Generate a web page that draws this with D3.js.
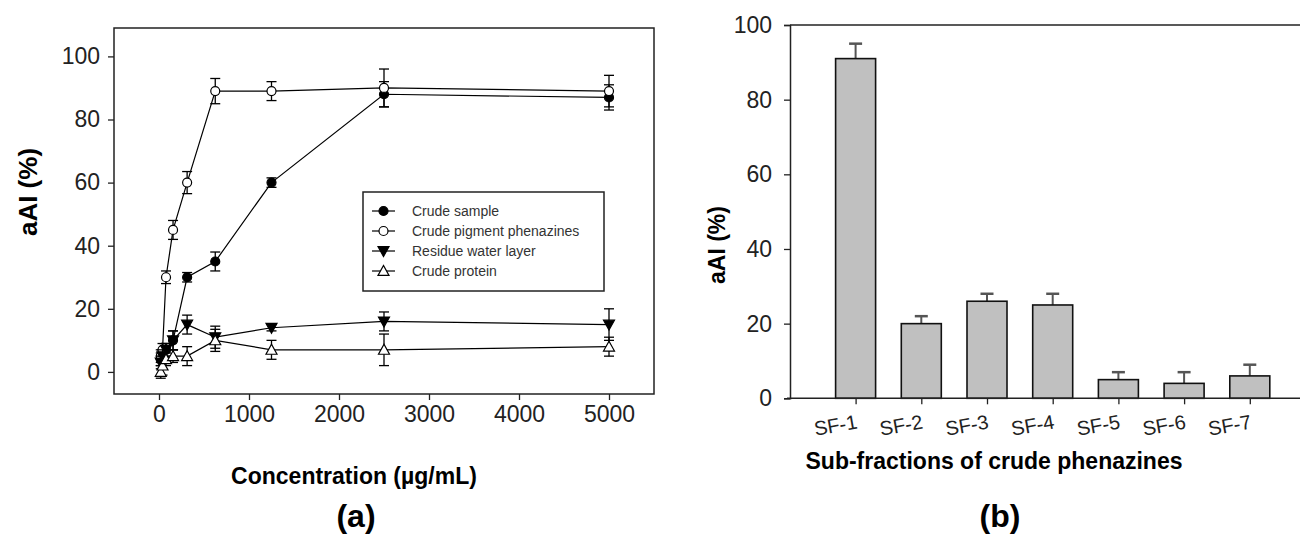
<!DOCTYPE html>
<html>
<head>
<meta charset="utf-8">
<script src="https://cdn.jsdelivr.net/npm/d3@7/dist/d3.min.js"></script>
<style>
  body { margin: 0; background: #fff; }
  svg { font-family: "Liberation Sans", Arial, sans-serif; }
</style>
</head>
<body>
<svg id="chart" width="1306" height="534"></svg>
<script>
// ---- data (a) ----
var concentrations = [19.5, 39, 78, 156, 312.5, 625, 1250, 2500, 5000];
var crudeSample = [4, 5, 7, 10, 30, 35, 60, 88, 87];
var crudeSampleErr = [2, 2, 2, 3, 1.5, 3, 1.5, 4, 4];
var pigment = [5, 7, 30, 45, 60, 89, 89, 90, 89];
var pigmentErr = [2, 2, 2, 3, 3.5, 4, 3, 6, 5];
var residue = [3, 5, 7, 10, 15, 11, 14, 16, 15];
var residueErr = [2, 2, 2, 3, 3, 3.5, 1, 3, 5];
var protein = [0, 2, 4, 5, 5, 10, 7, 7, 8];
var proteinErr = [2, 3, 2, 2, 3, 3.5, 3, 5, 3];
var seriesNames = ["Crude sample", "Crude pigment phenazines", "Residue water layer", "Crude protein"];
var xTicksA = [0, 1000, 2000, 3000, 4000, 5000];
var yTicks = [0, 20, 40, 60, 80, 100];

// ---- data (b) ----
var fractions = ["SF-1", "SF-2", "SF-3", "SF-4", "SF-5", "SF-6", "SF-7"];
var fractionValues = [91, 20, 26, 25, 5, 4, 6];
var fractionErr = [4, 2, 2, 3, 2, 3, 3];

var svg = d3.select("#chart");

// ================= panel (a) =================
var x = d3.scaleLinear().domain([-500, 5500]).range([114, 654]);
var y = d3.scaleLinear().domain([-7, 109]).range([394, 28]);

var gA = svg.append("g");

gA.append("rect")
  .attr("x", x.range()[0]).attr("y", y.range()[1])
  .attr("width", x.range()[1] - x.range()[0])
  .attr("height", y.range()[0] - y.range()[1])
  .attr("fill", "none").attr("stroke", "#222").attr("stroke-width", 1.5);

var axA = gA.append("g").attr("transform", "translate(0,394)")
  .call(d3.axisBottom(x).tickValues(xTicksA).tickFormat(d3.format("d")).tickSize(6).tickPadding(6));
var ayA = gA.append("g").attr("transform", "translate(114,0)")
  .call(d3.axisLeft(y).tickValues(yTicks).tickSize(6).tickPadding(8));
[axA, ayA].forEach(function(a) {
  a.select(".domain").remove();
  a.selectAll("line").attr("stroke", "#222").attr("stroke-width", 1.3);
  a.selectAll("text").attr("font-size", 23).attr("fill", "#222").attr("font-family", null);
});

var series = [
  { vals: crudeSample, err: crudeSampleErr, shape: "circle", fill: "#000" },
  { vals: pigment, err: pigmentErr, shape: "circle", fill: "#fff" },
  { vals: residue, err: residueErr, shape: "down", fill: "#000" },
  { vals: protein, err: proteinErr, shape: "up", fill: "#fff" }
];

var line = d3.line()
  .x(function(d) { return x(d.c); })
  .y(function(d) { return y(d.v); });

function drawMarker(g, shape, fill, cx, cy) {
  if (shape == "circle") {
    g.append("circle").attr("cx", cx).attr("cy", cy).attr("r", 4.5)
      .attr("fill", fill).attr("stroke", "#000").attr("stroke-width", 1.2);
  } else {
    var s = 5.5;
    var pts = shape == "down"
      ? [[cx - s, cy - s * 0.8], [cx + s, cy - s * 0.8], [cx, cy + s]]
      : [[cx - s, cy + s * 0.8], [cx + s, cy + s * 0.8], [cx, cy - s]];
    g.append("polygon").attr("points", pts.map(function(p) { return p.join(","); }).join(" "))
      .attr("fill", fill).attr("stroke", "#000").attr("stroke-width", 1.2);
  }
}

series.forEach(function(s) {
  var pts = concentrations.map(function(c, i) { return { c: c, v: s.vals[i], e: s.err[i] }; });
  var g = gA.append("g");
  g.append("path").datum(pts).attr("d", line)
    .attr("fill", "none").attr("stroke", "#000").attr("stroke-width", 1.2);
  pts.forEach(function(p) {
    var px = x(p.c);
    g.append("line").attr("x1", px).attr("x2", px)
      .attr("y1", y(p.v + p.e)).attr("y2", y(p.v - p.e))
      .attr("stroke", "#000").attr("stroke-width", 1.3);
    [p.v + p.e, p.v - p.e].forEach(function(v) {
      g.append("line").attr("x1", px - 5).attr("x2", px + 5)
        .attr("y1", y(v)).attr("y2", y(v))
        .attr("stroke", "#000").attr("stroke-width", 1.3);
    });
  });
  pts.forEach(function(p) { drawMarker(g, s.shape, s.fill, x(p.c), y(p.v)); });
});

// legend
var lg = gA.append("g");
lg.append("rect").attr("x", 363).attr("y", 192).attr("width", 241).attr("height", 99)
  .attr("fill", "#fff").attr("stroke", "#222").attr("stroke-width", 1.5);
seriesNames.forEach(function(name, i) {
  var ly = 211 + i * 20;
  lg.append("line").attr("x1", 372).attr("x2", 395).attr("y1", ly).attr("y2", ly)
    .attr("stroke", "#000").attr("stroke-width", 1.2);
  drawMarker(lg, series[i].shape, series[i].fill, 383.5, ly);
  lg.append("text").attr("x", 412).attr("y", ly + 5).attr("font-size", 14)
    .attr("fill", "#333").text(name);
});

gA.append("text").attr("transform", "translate(37,192) rotate(-90)")
  .attr("text-anchor", "middle").attr("font-size", 26).attr("font-weight", "bold")
  .text("aAI (%)");
gA.append("text").attr("x", 354).attr("y", 484)
  .attr("text-anchor", "middle").attr("font-size", 23).attr("font-weight", "bold")
  .text("Concentration (\u00b5g/mL)");
gA.append("text").attr("x", 356).attr("y", 527)
  .attr("text-anchor", "middle").attr("font-size", 32).attr("font-weight", "bold")
  .text("(a)");

// ================= panel (b) =================
var xb = d3.scalePoint().domain(fractions).range([855.6, 1249.8]);
var yb = d3.scaleLinear().domain([0, 100]).range([398.3, 25]);
var barW = 40;
var gB = svg.append("g");

gB.append("line").attr("x1", 790).attr("x2", 1300).attr("y1", yb(100)).attr("y2", yb(100))
  .attr("stroke", "#222").attr("stroke-width", 1.5);

var bars = gB.selectAll("g.bar").data(fractions).enter().append("g").attr("class", "bar");
bars.append("line")
  .attr("x1", function(d) { return xb(d); }).attr("x2", function(d) { return xb(d); })
  .attr("y1", function(d, i) { return yb(fractionValues[i]); })
  .attr("y2", function(d, i) { return yb(fractionValues[i] + fractionErr[i]); })
  .attr("stroke", "#555").attr("stroke-width", 2);
bars.append("line")
  .attr("x1", function(d) { return xb(d) - 6.5; }).attr("x2", function(d) { return xb(d) + 6.5; })
  .attr("y1", function(d, i) { return yb(fractionValues[i] + fractionErr[i]); })
  .attr("y2", function(d, i) { return yb(fractionValues[i] + fractionErr[i]); })
  .attr("stroke", "#555").attr("stroke-width", 2.5);
bars.append("rect")
  .attr("x", function(d) { return xb(d) - barW / 2; })
  .attr("y", function(d, i) { return yb(fractionValues[i]); })
  .attr("width", barW)
  .attr("height", function(d, i) { return yb(0) - yb(fractionValues[i]); })
  .attr("fill", "#c0c0c0").attr("stroke", "#111").attr("stroke-width", 1.6);

var axB = gB.append("g").attr("transform", "translate(0," + yb(0) + ")")
  .call(d3.axisBottom(xb).tickSize(6).tickPadding(6));
axB.select(".domain").remove();
gB.append("line").attr("x1", 787).attr("x2", 1300).attr("y1", yb(0)).attr("y2", yb(0))
  .attr("stroke", "#222").attr("stroke-width", 1.5);
axB.selectAll("line").attr("stroke", "#222").attr("stroke-width", 1.3);
axB.selectAll("text").attr("font-size", 20).attr("fill", "#222").attr("font-family", null)
  .attr("text-anchor", "end").attr("dy", null)
  .attr("transform", "translate(2,30) rotate(-10)").attr("y", 0);

var ayB = gB.append("g").attr("transform", "translate(790,0)")
  .call(d3.axisLeft(yb).tickValues(yTicks).tickSize(6).tickPadding(12));
ayB.select(".domain").attr("stroke", "#222").attr("stroke-width", 1.5);
ayB.selectAll("line").attr("stroke", "#222").attr("stroke-width", 1.3);
ayB.selectAll("text").attr("font-size", 23).attr("fill", "#222").attr("font-family", null);

gB.append("text").attr("transform", "translate(725,245) rotate(-90)")
  .attr("text-anchor", "middle").attr("font-size", 23).attr("font-weight", "bold")
  .text("aAI (%)");
gB.append("text").attr("x", 994).attr("y", 469)
  .attr("text-anchor", "middle").attr("font-size", 23).attr("font-weight", "bold")
  .text("Sub-fractions of crude phenazines");
gB.append("text").attr("x", 1000).attr("y", 527)
  .attr("text-anchor", "middle").attr("font-size", 32).attr("font-weight", "bold")
  .text("(b)");
</script>
</body>
</html>
